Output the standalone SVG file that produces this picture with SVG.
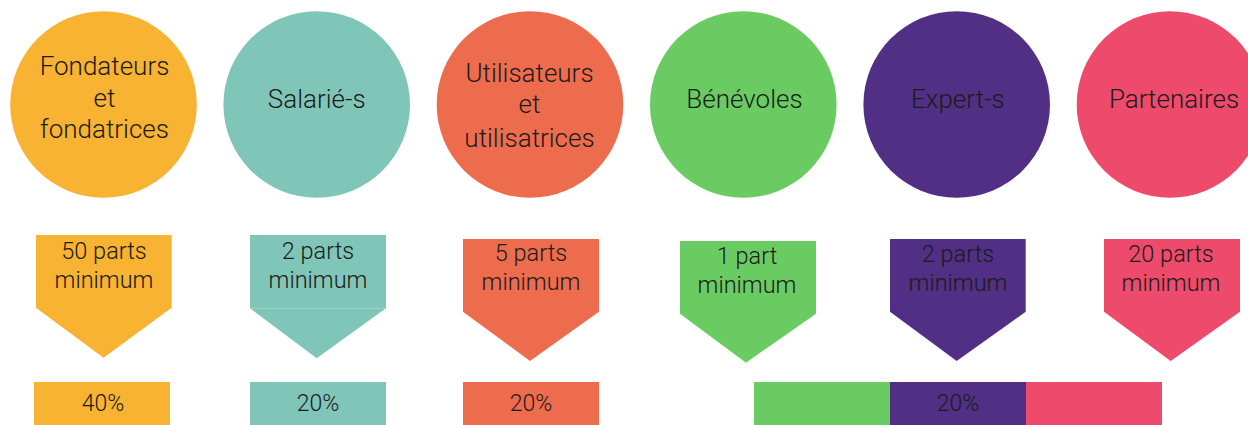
<svg xmlns="http://www.w3.org/2000/svg" width="1248" height="425" viewBox="0 0 1248 425">
<style>
text{font-family:Roboto,"Liberation Sans",sans-serif;font-weight:300;fill:#1b1b1b;text-anchor:middle}
.c{font-size:26px}
.p{font-size:23.5px}
.b{font-size:23px}
.or{fill:#F7B331}.te{fill:#80C6B8}.rd{fill:#EE6C4E}.gr{fill:#6BCB63}.pu{fill:#512F84}.pk{fill:#EE4A6C}
</style>
<rect width="1248" height="425" fill="#fff"/>
<g id="fondateurs">
<circle class="or" cx="103.5" cy="104.5" r="93.3"/>
<text class="c" x="104.5" y="75">Fondateurs</text>
<text class="c" x="104.5" y="106.7">et</text>
<text class="c" x="104.5" y="138.3">fondatrices</text>
</g>
<g id="salaries">
<circle class="te" cx="316.7" cy="104.5" r="93.3"/>
<text class="c" x="316.7" y="107.5">Salarié-s</text>
</g>
<g id="utilisateurs">
<circle class="rd" cx="530" cy="104.5" r="93.3"/>
<text class="c" x="529.5" y="81.7">Utilisateurs</text>
<text class="c" x="529.5" y="113.3">et</text>
<text class="c" x="529.5" y="146.7">utilisatrices</text>
</g>
<g id="benevoles">
<circle class="gr" cx="743.3" cy="104.5" r="93.3"/>
<text class="c" x="744.5" y="108.3">Bénévoles</text>
</g>
<g id="experts">
<circle class="pu" cx="956.7" cy="104.5" r="93.3"/>
<text class="c" x="957.8" y="108.3">Expert-s</text>
</g>
<g id="partenaires">
<circle class="pk" cx="1170" cy="104.5" r="93.3"/>
<text class="c" x="1174" y="108.3">Partenaires</text>
</g>

<g id="parts-fondateurs">
<polygon class="or" points="36,235 171.7,235 171.7,307.7 103.5,357.7 36,307.7"/>
<text class="p" x="104" y="259.3">50 parts</text>
<text class="p" x="104" y="288.3">minimum</text>
</g>
<g id="parts-salaries">
<polygon class="te" points="250,235 386,235 386,308.3 316.7,358.3 250,308.3"/>
<line x1="250" y1="308.3" x2="386" y2="308.3" stroke="#a6d8cd" stroke-width="0.8"/>
<text class="p" x="318" y="259">2 parts</text>
<text class="p" x="318" y="287.7">minimum</text>
</g>
<g id="parts-utilisateurs">
<polygon class="rd" points="463,239 599,239 599,311.7 530,361 463,311.7"/>
<text class="p" x="531" y="261">5 parts</text>
<text class="p" x="531" y="290">minimum</text>
</g>
<g id="parts-benevoles">
<polygon class="gr" points="680,241 816,241 816,313.7 746,362.7 680,313.7"/>
<text class="p" x="747" y="264">1 part</text>
<text class="p" x="747" y="292.7">minimum</text>
</g>
<g id="parts-experts">
<polygon class="pu" points="890,239 1025.7,239 1025.7,311.7 956.7,361 890,311.7"/>
<text class="p" x="958" y="261.7">2 parts</text>
<text class="p" x="958" y="290.7">minimum</text>
</g>
<g id="parts-partenaires">
<polygon class="pk" points="1104,239 1240,239 1240,311.7 1170.7,361 1104,311.7"/>
<text class="p" x="1171" y="261.7">20 parts</text>
<text class="p" x="1171" y="290.7">minimum</text>
</g>

<g id="pct-fondateurs">
<rect class="or" x="34" y="382" width="136" height="43"/>
<text class="b" x="103" y="411">40%</text>
</g>
<g id="pct-salaries">
<rect class="te" x="250" y="382" width="136" height="43"/>
<text class="b" x="318" y="411">20%</text>
</g>
<g id="pct-utilisateurs">
<rect class="rd" x="463" y="382" width="136" height="43"/>
<text class="b" x="531" y="411">20%</text>
</g>
<g id="pct-groupe">
<rect class="gr" x="754" y="382" width="136" height="43"/>
<rect class="pu" x="890" y="382" width="136" height="43"/>
<rect class="pk" x="1026" y="382" width="136" height="43"/>
<text class="b" x="958" y="411">20%</text>
</g>
</svg>
